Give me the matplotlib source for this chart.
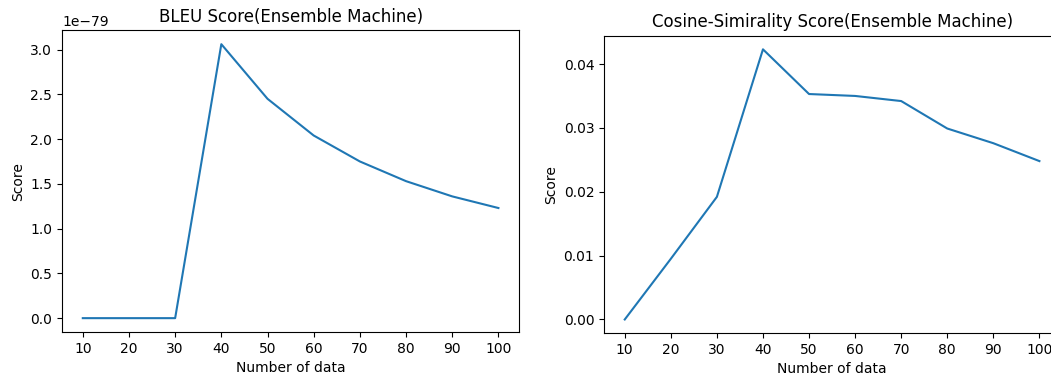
import matplotlib
matplotlib.use("Agg")
import matplotlib.pyplot as plt

# number of data points used
num_data = [10, 20, 30, 40, 50, 60, 70, 80, 90, 100]

# BLEU score (tiny values, shown with 1e-79 offset)
bleu_scores = [0.0, 0.0, 0.0, 3.06e-79, 2.45e-79, 2.04e-79, 1.75e-79, 1.53e-79, 1.36e-79, 1.23e-79]

# cosine similarity score
cosine_scores = [0.0, 0.0095, 0.0192, 0.0423, 0.0353, 0.0350, 0.0342, 0.0299, 0.0276, 0.0248]

fig = plt.figure(figsize=(10.51, 3.81), dpi=100)

ax1 = fig.add_axes([0.059, 0.129, 0.435, 0.791])
ax1.plot(num_data, bleu_scores)
ax1.set_xticks(num_data)
ax1.set_title('BLEU Score(Ensemble Machine)')
ax1.set_xlabel('Number of data')
ax1.set_ylabel('Score')

# right panel is cropped at the image edge in the reference
ax2 = fig.add_axes([0.5747, 0.126, 0.434, 0.780])
ax2.plot(num_data, cosine_scores)
ax2.set_xticks(num_data)
ax2.set_title('Cosine-Simirality Score(Ensemble Machine)')
ax2.set_xlabel('Number of data')
ax2.set_ylabel('Score')

fig.savefig('out.png', dpi=100)
